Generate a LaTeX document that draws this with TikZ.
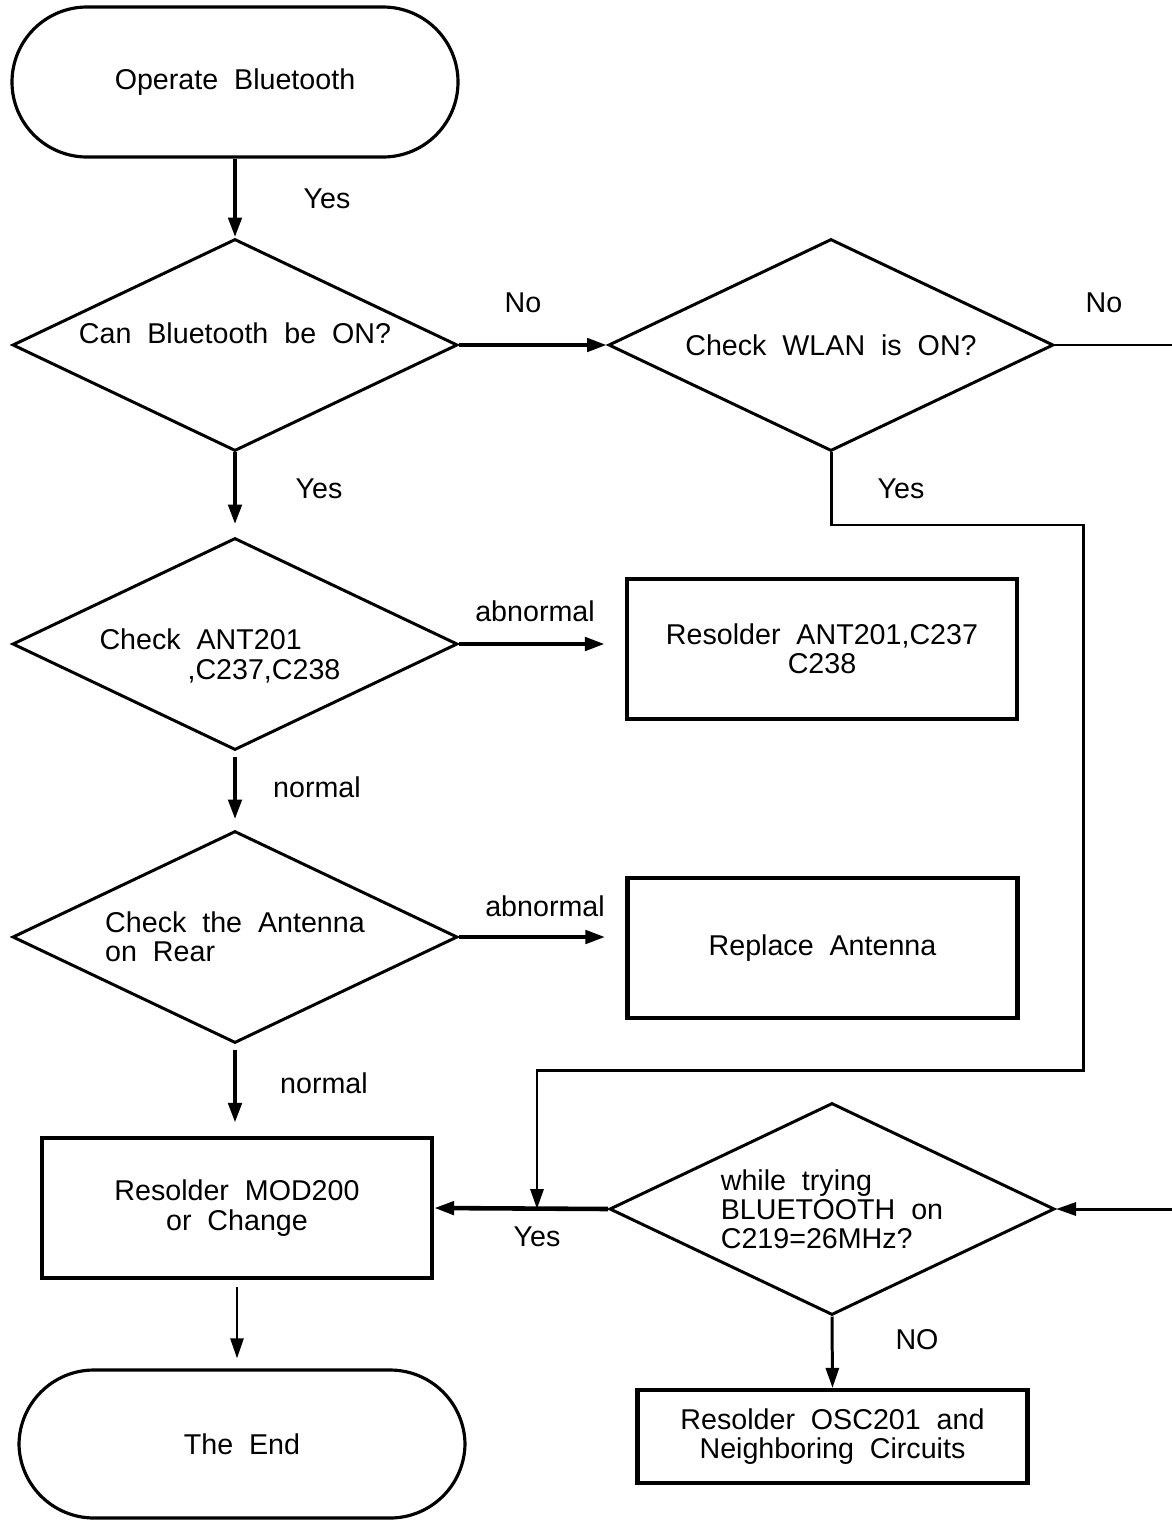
\documentclass[tikz,border=0pt]{standalone}
\usepackage{fontspec}
\setmainfont{Liberation Sans}[WordSpace=2]
\usetikzlibrary{shapes.geometric,arrows.meta}

\begin{document}
\begin{tikzpicture}[
  font=\fontsize{8.15pt}{8.3pt}\selectfont,
  decision/.style={diamond, draw, line width=0.85pt, inner sep=0pt, aspect=2.1,
                   minimum width=4.45cm, minimum height=2.12cm, align=center},
  process/.style={rectangle, draw, line width=1.2pt, minimum width=3.9cm,
                  minimum height=1.4cm, align=center},
  terminal/.style={rectangle, rounded corners=0.75cm, draw, line width=0.9pt,
                   minimum width=4.46cm, minimum height=1.5cm},
  flow/.style={line width=1.3pt, -{Triangle[length=2mm,width=1.3mm]}},
  wire/.style={line width=0.85pt}
]
  \useasboundingbox (0,0) rectangle (11.72,-15.21);

  % Left column
  \node[terminal] (start) at (2.35,-0.82) {Operate Bluetooth};
  \node[decision, label={[yshift=0.12cm]center:Can Bluetooth be ON?}]
    (btOn) at (2.35,-3.45) {};
  \node[decision, label={[align=left, xshift=-0.15cm, yshift=-0.12cm]center:{Check ANT201\\\hspace*{0.88cm},C237,C238}}]
    (antCheck) at (2.35,-6.44) {};
  \node[decision, align=left] (rearCheck) at (2.35,-9.37)
    {Check the Antenna\\on Rear};
  \node[process] (modFix) at (2.37,-12.08) {Resolder MOD200\\ or Change};
  \node[terminal, minimum height=1.48cm] (theEnd) at (2.42,-14.44) {The End};

  % Right column
  \node[decision] (wlanOn) at (8.31,-3.45) {Check WLAN is ON?};
  \node[process] (antFix) at (8.22,-6.49) {Resolder ANT201,C237\\C238};
  \node[process] (antSwap) at (8.225,-9.48) {Replace Antenna};
  \node[decision, align=left] (oscCheck) at (8.32,-12.09)
    {while trying\\BLUETOOTH on\\C219=26MHz?};
  \node[process, minimum height=0.93cm] (oscFix) at (8.325,-14.365)
    {Resolder OSC201 and\\Neighboring Circuits};

  % Free ends and bends
  \coordinate (offR1) at (11.72,-3.45);
  \coordinate (offR2) at (11.72,-12.09);
  \coordinate (wlanBend) at (10.83,-5.25);
  \coordinate (wlanDrop) at (10.83,-10.70);
  \coordinate (yesJoin) at (5.37,-12.09);

  % Main flow
  \draw[flow] (start.south) -- (btOn.north);
  \draw[flow, shorten >=0.12cm] (btOn.south) -- (btOn.south |- antCheck.north);
  \draw[flow, shorten <=0.05cm, shorten >=0.1cm] (antCheck.south) -- (antCheck.south |- rearCheck.north);
  \draw[flow, shorten <=0.05cm, shorten >=0.13cm] (rearCheck.south) -- (rearCheck.south |- modFix.north);
  \draw[flow, line width=0.7pt, shorten <=0.07cm, shorten >=0.1cm] (modFix.south) -- (modFix.south |- theEnd.north);

  % Branches
  \draw[flow] (btOn.east) -- (wlanOn.west);
  \draw[wire] (wlanOn.east) -- (offR1);
  \draw[flow, shorten >=0.2cm] (antCheck.east) -- (antCheck.east -| antFix.west);
  \draw[flow, shorten >=0.2cm] (rearCheck.east) -- (rearCheck.east -| antSwap.west);
  \draw[flow, line width=0.85pt] (wlanOn.south) |- (wlanBend) -- (wlanDrop) -| (yesJoin);
  \draw[flow] (oscCheck.west) -- (modFix.east);
  \draw[flow, line width=0.85pt] (offR2) -- (oscCheck.east);
  \draw[flow, line width=0.85pt] (oscCheck.south) -- (oscFix.north);

  % Labels
  \node (yesA) at (3.27,-1.99) {Yes};
  \node (noA) at (5.23,-3.03) {No};
  \node (noB) at (11.04,-3.03) {No};
  \node (yesB) at (3.19,-4.89) {Yes};
  \node (yesC) at (9.01,-4.89) {Yes};
  \node (abnA) at (5.35,-6.11) {abnormal};
  \node (norA) at (3.17,-7.87) {normal};
  \node (abnB) at (5.45,-9.06) {abnormal};
  \node (norB) at (3.24,-10.83) {normal};
  \node (yesD) at (5.37,-12.37) {Yes};
  \node (noC) at (9.17,-13.40) {NO};
\end{tikzpicture}
\end{document}
